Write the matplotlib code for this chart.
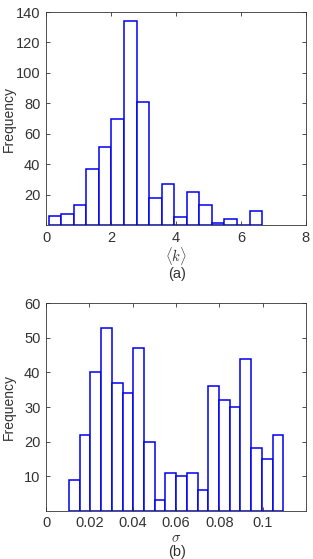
import numpy as np
import matplotlib
matplotlib.use("Agg")
import matplotlib.pyplot as plt

# histogram (a): mean degree <k>
k_counts = [6, 7, 13, 37, 51, 70, 134, 81, 18, 27, 5, 22, 13, 1, 4, 0, 9]
k_edges = np.linspace(0.082, 6.656, len(k_counts) + 1)

# histogram (b): sigma
s_counts = [9, 22, 40, 53, 37, 34, 47, 20, 3, 11, 10, 11, 6, 36, 32, 30, 44, 18, 15, 22]
s_edges = np.linspace(0.0106, 0.1096, len(s_counts) + 1)

plt.rcParams['font.family'] = ['Liberation Sans', 'DejaVu Sans']
plt.rcParams['mathtext.fontset'] = 'cm'
txt = '#333333'
fs = 10.5

fig = plt.figure(figsize=(3.13, 5.59), dpi=100)
ax1 = fig.add_axes([0.147, 0.5975, 0.830, 0.381])
ax2 = fig.add_axes([0.147, 0.0864, 0.830, 0.371])


def draw_hist(ax, edges, counts):
    ax.bar(edges[:-1], counts, width=np.diff(edges), align='edge',
           facecolor='white', edgecolor='#0000ee', linewidth=1.1)
    ax.tick_params(direction='in', top=True, right=True, length=3,
                   width=0.6, colors=txt, labelsize=fs, pad=4)
    for sp in ax.spines.values():
        sp.set_color(txt)
        sp.set_linewidth(0.6)
    ax.set_ylabel('Frequency', fontsize=10, color=txt)
    ax.yaxis.set_label_coords(-0.115, 0.5)


draw_hist(ax1, k_edges, k_counts)
ax1.set_xlim(0, 8)
ax1.set_ylim(0, 140)
ax1.set_xticks([0, 2, 4, 6, 8])
ax1.set_yticks([20, 40, 60, 80, 100, 120, 140])
ax1.set_xlabel(r'$\langle k \rangle$', fontsize=fs, color=txt, labelpad=0)
fig.text(0.565, 1 - 274 / 559, '(a)', ha='center', va='center', fontsize=fs, color=txt)

draw_hist(ax2, s_edges, s_counts)
ax2.set_xlim(0, 0.12)
ax2.set_ylim(0, 60)
ax2.set_xticks([0, 0.02, 0.04, 0.06, 0.08, 0.1])
ax2.set_xticklabels(['0', '0.02', '0.04', '0.06', '0.08', '0.1'])
ax2.set_yticks([10, 20, 30, 40, 50, 60])
ax2.set_xlabel(r'$\sigma$', fontsize=fs, color=txt, labelpad=1)
fig.text(0.565, 1 - 552 / 559, '(b)', ha='center', va='center', fontsize=fs, color=txt)

fig.savefig('out.png', dpi=100)
